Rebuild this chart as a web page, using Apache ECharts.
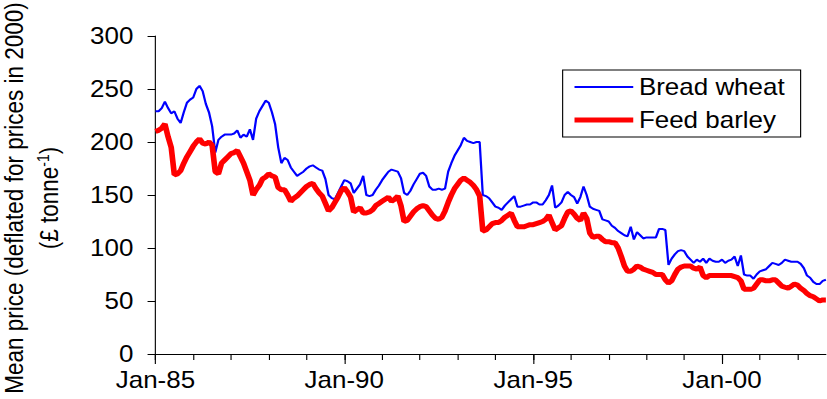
<!DOCTYPE html>
<html><head><meta charset="utf-8">
<script src="https://cdn.jsdelivr.net/npm/echarts@6/dist/echarts.min.js"></script>
<style>
html,body{margin:0;padding:0;background:#fff;overflow:hidden}
#wrap{width:827px;height:399px;overflow:hidden}
#chart{width:732px;height:399px;transform:scaleX(1.1298);transform-origin:0 0}
</style></head>
<body><div id="wrap"><div id="chart"></div></div>
<script>
const startYear = 1985;
const monthNames = ['Jan','Feb','Mar','Apr','May','Jun','Jul','Aug','Sep','Oct','Nov','Dec'];
const tickLabels = ['Jan-85','Jan-90','Jan-95','Jan-00'];
const seriesNames = ['Bread wheat','Feed barley'];
const yTicks = [0,50,100,150,200,250,300];

const wheat = [
229,229,232,238,232,227,229,222,218,228,
237,240,242,250,253,248,236,228,215,190,
202,205,207,207,207,208,211,204,207,205,
212,202,222,229,234,239,237,228,217,195,
180,185,183,176,172,168,170,172,175,177,
178,176,174,173,165,150,147,146,152,158,
164,163,161,152,156,160,168,150,149,150,
155,159,164,168,172,174,173,172,166,152,
150,154,160,165,170,171,168,158,155,155,
156,155,156,172,180,187,192,197,204,201,
200,199,200,200,150,149,147,143,139,138,
136,140,143,146,149,139,139,140,141,141,
143,143,141,141,145,150,159,138,140,143,
150,153,150,148,142,148,158,150,139,137,
136,135,127,126,125,121,119,116,114,112,
111,120,108,115,112,109,110,110,110,110,
118,118,117,84,90,94,97,98,97,92,
89,86,89,87,90,86,90,88,87,87,
89,86,88,89,92,83,93,75,74,74,
71,75,78,79,80,83,86,85,84,86,
89,88,87,87,87,85,81,74,72,68,
66,66,69,70
];

const barley = [
210,211,213,217,205,195,169,170,173,180,
186,191,196,200,203,199,198,200,197,172,
170,180,183,186,189,190,192,186,180,172,
164,150,155,159,165,167,170,168,167,157,
155,155,150,144,147,149,152,155,158,160,
161,156,152,149,142,135,138,143,148,154,
157,153,148,134,136,138,133,133,134,136,
140,142,144,146,148,144,146,149,140,125,
126,130,134,137,139,140,139,135,131,128,
127,129,135,143,150,156,160,164,166,164,
162,159,155,149,116,117,120,123,124,124,
126,129,131,133,126,120,120,120,121,122,
122,123,124,125,127,131,124,117,119,121,
128,134,135,132,128,126,133,128,114,110,
111,111,108,106,106,105,105,100,92,83,
78,78,80,83,82,80,79,78,77,75,
75,75,70,67,69,75,80,82,83,83,
83,81,80,82,74,72,74,74,74,74,
74,74,74,74,73,72,69,61,61,61,
62,66,70,70,69,69,70,70,67,64,
63,62,64,66,65,62,60,57,55,54,
52,50,51,51
];

const categories = wheat.map((_, i) =>
  monthNames[i % 12] + '-' + String((startYear + Math.floor(i / 12)) % 100).padStart(2, '0'));

const FONT = '"Liberation Sans", Arial, Helvetica, sans-serif';
const chart = echarts.init(document.getElementById('chart'), null, {renderer: 'svg'});

const baseX = {
  type: 'category', data: categories, boundaryGap: false, position: 'bottom',
  axisLine: {show: true, lineStyle: {color: '#000', width: 1}},
  splitLine: {show: false}
};

chart.setOption({
  animation: false,
  backgroundColor: '#fff',
  grid: {left: 137.6, right: 1, top: 36, bottom: 45, containLabel: false},
  xAxis: [
    Object.assign({}, baseX, {
      axisTick: {show: true, inside: false, length: 6, interval: (i) => i % 12 === 0, lineStyle: {color: '#000'}},
      axisLabel: {show: true, interval: (i, v) => tickLabels.indexOf(v) >= 0, margin: 15,
        fontSize: 23, color: '#000', fontFamily: FONT}
    }),
    Object.assign({}, baseX, {
      axisLine: {show: false},
      axisTick: {show: true, inside: false, length: 10, interval: (i, v) => tickLabels.indexOf(v) >= 0, lineStyle: {color: '#000'}},
      axisLabel: {show: false}
    })
  ],
  yAxis: {
    type: 'value', min: yTicks[0], max: yTicks[yTicks.length - 1], interval: 50,
    axisLine: {show: true, lineStyle: {color: '#000', width: 1}},
    axisTick: {show: true, inside: false, length: 7, lineStyle: {color: '#000'}},
    axisLabel: {margin: 19.5, fontSize: 23, color: '#000', fontFamily: FONT},
    splitLine: {show: false}
  },
  legend: {
    orient: 'vertical', left: 498, top: 70,
    padding: [5.5, 14, 5.5, 8],
    itemWidth: 52, itemHeight: 14, itemGap: 10,
    borderColor: '#000', borderWidth: 1, backgroundColor: '#fff',
    itemStyle: {opacity: 0},
    textStyle: {fontSize: 23, lineHeight: 23, color: '#000', fontFamily: FONT},
    data: [
      {name: seriesNames[0], lineStyle: {width: 2, color: '#0000FF'}},
      {name: seriesNames[1], lineStyle: {width: 5, color: '#FF0000'}}
    ]
  },
  graphic: [
    {type: 'text', x: 12, y: 198, rotation: Math.PI / 2,
      style: {text: 'Mean price (deflated for prices in 2000)', fontSize: 22.5, fontFamily: FONT, fill: '#000',
        align: 'center', verticalAlign: 'middle', textAlign: 'center', textVerticalAlign: 'middle'}},
    {type: 'text', x: 43, y: 198, rotation: Math.PI / 2,
      style: {text: '(£ tonne{sup|-1})', fontSize: 22.5, fontFamily: FONT, fill: '#000',
        align: 'center', verticalAlign: 'middle', textAlign: 'center', textVerticalAlign: 'middle',
        rich: {sup: {fontSize: 14, fontFamily: FONT, verticalAlign: 'top', fill: '#000'}}}}
  ],
  series: [
    {name: seriesNames[0], type: 'line', data: wheat, symbol: 'none', xAxisIndex: 0,
      lineStyle: {color: '#0000FF', width: 2}, itemStyle: {color: '#0000FF'}},
    {name: seriesNames[1], type: 'line', data: barley, symbol: 'none', xAxisIndex: 0,
      lineStyle: {color: '#FF0000', width: 5}, itemStyle: {color: '#FF0000'}}
  ]
});
</script></body></html>
